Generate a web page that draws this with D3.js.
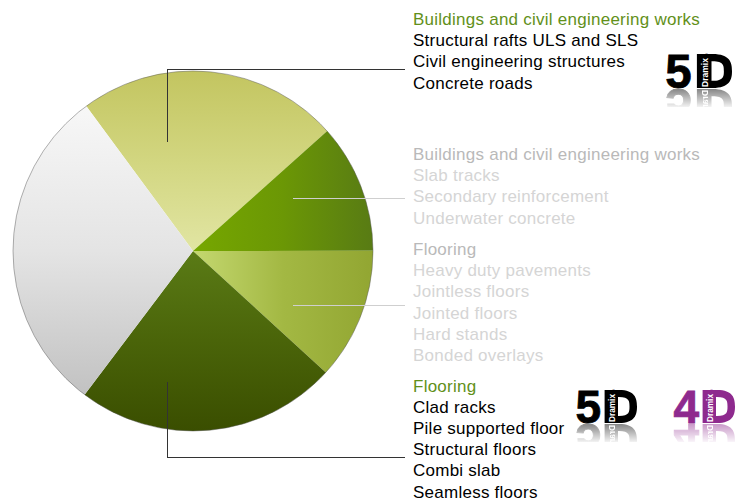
<!DOCTYPE html>
<html>
<head>
<meta charset="utf-8">
<script src="https://cdn.jsdelivr.net/npm/d3@7"></script>
<style>
  html, body { margin: 0; padding: 0; background: #fff; }
  svg { display: block; }
</style>
</head>
<body>
<svg id="chart" width="737" height="500"></svg>
<script>
// Application segments (share of the pie, %), clockwise from the upper left
const segments = ["Buildings & civil engineering (5D)", "Buildings & civil engineering", "Flooring", "Flooring (5D / 4D)", "Other"];
const shares   = [23.5, 11.6, 11.8, 23.5, 29.6];

// Gradient stops per segment
const segmentStops = [
  ["#c3c560", "#d2d680", "#e1e5a3"],
  ["#76a700", "#6b9705", "#587b14"],
  ["#c4d870", "#a3b843", "#92a632"],
  ["#5a7b16", "#4a6409", "#3a4e00"],
  ["#fcfcfc", "#e4e4e4", "#b9b9b9"]
];

// Text blocks to the right of the pie
const groupTitles = [
  "Buildings and civil engineering works",
  "Buildings and civil engineering works",
  "Flooring",
  "Flooring"
];
const groupItems = [
  ["Structural rafts ULS and SLS", "Civil engineering structures", "Concrete roads"],
  ["Slab tracks", "Secondary reinforcement", "Underwater concrete"],
  ["Heavy duty pavements", "Jointless floors", "Jointed floors", "Hard stands", "Bonded overlays"],
  ["Clad racks", "Pile supported floor", "Structural floors", "Combi slab", "Seamless floors"]
];
const groupActive = [true, false, false, true];

// Product badges
const badgeDigits = ["5", "5", "4"];
const badgeColors = ["#000000", "#000000", "#8e2a8e"];

// ---- layout ----
const svg = d3.select("#chart");
const cx = 193, cy = 251, r = 180;
const defs = svg.append("defs");

const startA = -36.4 * Math.PI / 180;
const pie = d3.pie().sort(null).value(d => d)
  .startAngle(startA).endAngle(startA + 2 * Math.PI);
const arc = d3.arc().innerRadius(0).outerRadius(r);
const arcs = pie(shares);

// gradient directions, in the pie group's own coordinates (origin at centre)
const gradDir = ["v-top", "h", "h", "v-bottom", "v-full"];
segmentStops.forEach((stops, i) => {
  const g = defs.append("linearGradient")
    .attr("id", "seg" + i)
    .attr("gradientUnits", "userSpaceOnUse");
  const dir = gradDir[i];
  if (dir === "h") g.attr("x1", 0).attr("x2", r).attr("y1", 0).attr("y2", 0);
  if (dir === "v-top") g.attr("x1", 0).attr("x2", 0).attr("y1", -r).attr("y2", 0);
  if (dir === "v-bottom") g.attr("x1", 0).attr("x2", 0).attr("y1", 0).attr("y2", r);
  if (dir === "v-full") g.attr("x1", 0).attr("x2", 0).attr("y1", -r).attr("y2", r);
  stops.forEach((c, k) => g.append("stop")
    .attr("offset", k / (stops.length - 1))
    .attr("stop-color", c));
});

const pieG = svg.append("g").attr("transform", `translate(${cx},${cy})`);
pieG.selectAll("path.seg")
  .data(arcs)
  .join("path")
  .attr("class", "seg")
  .attr("d", arc)
  .attr("fill", (d, i) => `url(#seg${i})`);

// soft rim around the disc
pieG.append("circle")
  .attr("r", r)
  .attr("fill", "none")
  .attr("stroke", "#555")
  .attr("stroke-opacity", 0.45)
  .attr("stroke-width", 1);

// ---- leader lines ----
const textX = 413;
const lineEnd = 405;
const leaders = [
  { pts: [[cx - 26, 142], [cx - 26, 69], [lineEnd, 69]], color: "#333" },
  { pts: [[cx + 100, 198], [lineEnd, 198]], color: "#cfcfcf" },
  { pts: [[cx + 100, 305], [lineEnd, 305]], color: "#cfcfcf" },
  { pts: [[cx - 26, 382], [cx - 26, 457], [lineEnd, 457]], color: "#333" }
];
const lineGen = d3.line();
svg.selectAll("path.leader")
  .data(leaders)
  .join("path")
  .attr("class", "leader")
  .attr("d", d => lineGen(d.pts))
  .attr("fill", "none")
  .attr("stroke", d => d.color)
  .attr("stroke-width", 1)
  .attr("shape-rendering", "crispEdges");

// ---- text blocks ----
const groupTop = [25, 160, 255, 391.5];
const lineH = 21.2;
const textG = svg.append("g")
  .attr("font-family", "'Liberation Sans', Arial, sans-serif")
  .attr("font-size", 17)
  .attr("letter-spacing", 0.25);

groupTitles.forEach((title, gi) => {
  const active = groupActive[gi];
  const lines = [title].concat(groupItems[gi]);
  textG.selectAll(null)
    .data(lines)
    .join("text")
    .attr("x", textX)
    .attr("y", (d, k) => groupTop[gi] + k * lineH)
    .attr("fill", (d, k) => k === 0 ? (active ? "#62901a" : "#b9b9b9") : (active ? "#000" : "#d5d5d5"))
    .text(d => d);
});

// ---- product badges ----
const badgeBoxes = [
  { x: 667, y: 54, w: 65, h: 34 },
  { x: 577, y: 390, w: 60, h: 33 },
  { x: 675, y: 390, w: 60, h: 33 }
];

function drawBadge(box, digit, color, idx) {
  const id = "badge" + idx;
  const g = defs.append("g").attr("id", id);
  const { x, y, w, h } = box;
  const fs = h / 0.716;
  // digit in a heavy sans
  g.append("text")
    .attr("x", x - fs * 0.035)
    .attr("y", y + h)
    .attr("font-family", "'Liberation Sans', Arial, sans-serif")
    .attr("font-weight", "bold")
    .attr("font-size", fs)
    .attr("fill", color)
    .attr("stroke", color)
    .attr("stroke-width", 0.8)
    .text(digit);
  // letter D with a wide stem that carries the brand name
  const dx0 = x + w * 0.46, dx1 = x + w;
  const stemR = x + w * 0.70;
  const p = d3.path();
  p.moveTo(dx0, y);
  p.lineTo(stemR, y);
  p.bezierCurveTo(dx1 - 2, y, dx1, y + h * 0.25, dx1, y + h / 2);
  p.bezierCurveTo(dx1, y + h * 0.75, dx1 - 2, y + h, stemR, y + h);
  p.lineTo(dx0, y + h);
  p.closePath();
  const iy0 = y + h * 0.21, iy1 = y + h * 0.79, ix1 = dx1 - w * 0.125;
  p.moveTo(stemR - 1, iy0);
  p.lineTo(stemR, iy0);
  p.bezierCurveTo(ix1, iy0, ix1, y + h * 0.35, ix1, y + h / 2);
  p.bezierCurveTo(ix1, y + h * 0.65, ix1, iy1, stemR, iy1);
  p.lineTo(stemR - 1, iy1);
  p.closePath();
  g.append("path")
    .attr("d", p.toString())
    .attr("fill", color)
    .attr("fill-rule", "evenodd");
  const sx = (dx0 + stemR) / 2 + 0.5;
  g.append("text")
    .attr("transform", `translate(${sx},${y + h - 1}) rotate(-90)`)
    .attr("font-family", "'Liberation Sans', Arial, sans-serif")
    .attr("font-weight", "bold")
    .attr("font-size", 9)
    .attr("dominant-baseline", "central")
    .attr("textLength", h - 5)
    .attr("lengthAdjust", "spacingAndGlyphs")
    .attr("fill", "#fff")
    .text("Dramix");
  g.append("text")
    .attr("transform", `translate(${sx + 3},${y + 2}) rotate(-90)`)
    .attr("font-family", "'Liberation Sans', Arial, sans-serif")
    .attr("font-size", 4)
    .attr("fill", color)
    .text("®");

  // badge itself
  svg.append("use").attr("href", "#" + id);

  // mirrored reflection fading downward
  const grad = defs.append("linearGradient")
    .attr("id", id + "-fade")
    .attr("gradientUnits", "userSpaceOnUse")
    .attr("x1", 0).attr("x2", 0)
    .attr("y1", y + h).attr("y2", y + h + 19);
  grad.append("stop").attr("offset", 0).attr("stop-color", "#fff").attr("stop-opacity", 0.5);
  grad.append("stop").attr("offset", 1).attr("stop-color", "#fff").attr("stop-opacity", 0.05);
  const mask = defs.append("mask").attr("id", id + "-mask")
    .attr("maskUnits", "userSpaceOnUse")
    .attr("x", x - 5).attr("y", y + h).attr("width", w + 10).attr("height", 19);
  mask.append("rect")
    .attr("x", x - 5).attr("y", y + h + 1).attr("width", w + 10).attr("height", 18)
    .attr("fill", `url(#${id}-fade)`);
  svg.append("g")
    .attr("mask", `url(#${id}-mask)`)
    .append("use")
    .attr("href", "#" + id)
    .attr("transform", `translate(0,${2 * (y + h) + 1}) scale(1,-1)`);
}

badgeBoxes.forEach((b, i) => drawBadge(b, badgeDigits[i], badgeColors[i], i));
</script>
</body>
</html>
